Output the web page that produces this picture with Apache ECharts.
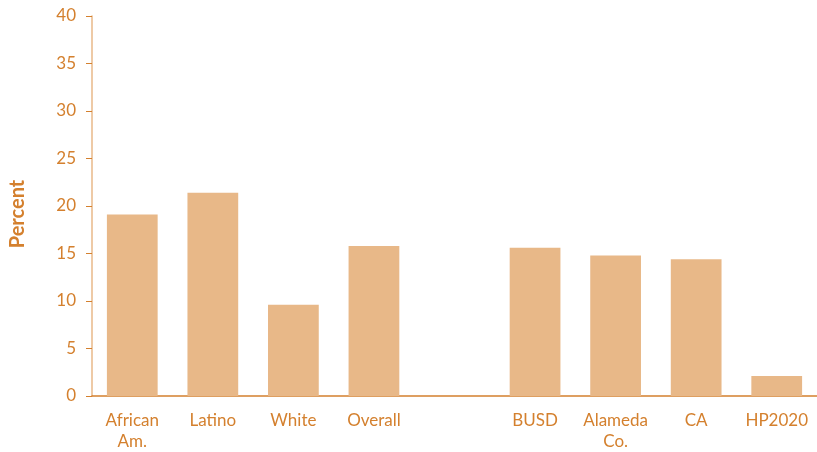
<!DOCTYPE html>
<html>
<head>
<meta charset="utf-8">
<script src="https://cdn.jsdelivr.net/npm/echarts@6/dist/echarts.min.js"></script>
<style>
  html, body { margin: 0; padding: 0; background: #fff; }
  #eChart { width: 817px; height: 452px; }
</style>
</head>
<body>
<div id="eChart"></div>
<script>
var categories = ['African\nAm.', 'Latino', 'White', 'Overall', '', 'BUSD', 'Alameda\nCo.', 'CA', 'HP2020'];
var values = [19.1, 21.4, 9.6, 15.8, null, 15.6, 14.8, 14.4, 2.1];
var yTicks = { min: 0, max: 40, interval: 5 };

var orange = '#D4802E';
var barColor = '#E8B888';

var myChart = echarts.init(document.getElementById('eChart'));
var option = {
    animation: false,
    grid: {
        left: 90,
        right: -6,
        top: 16,
        bottom: 56
    },
    xAxis: {
        type: 'category',
        data: categories,
        axisLine: { lineStyle: { color: orange, width: 1.5 } },
        axisTick: { show: false },
        axisLabel: {
            color: orange,
            fontSize: 17,
            fontFamily: 'Lato',
            margin: 14,
            lineHeight: 21,
            interval: 0
        }
    },
    yAxis: {
        type: 'value',
        min: yTicks.min,
        max: yTicks.max,
        interval: yTicks.interval,
        name: 'Percent',
        nameLocation: 'middle',
        nameGap: 64,
        nameTextStyle: {
            color: orange,
            fontSize: 20,
            fontWeight: 'bold',
            fontFamily: 'Lato',
            padding: [0, 16, 0, 0]
        },
        axisLine: { show: true, lineStyle: { color: barColor, width: 1.5 } },
        axisTick: { show: true, length: 6, lineStyle: { color: orange } },
        splitLine: { show: false },
        axisLabel: {
            color: orange,
            fontSize: 17,
            fontFamily: 'Lato',
            margin: 16
        }
    },
    series: [
        {
            type: 'bar',
            data: values,
            barWidth: '63%',
            itemStyle: { color: barColor }
        }
    ]
};
myChart.setOption(option);
</script>
</body>
</html>
